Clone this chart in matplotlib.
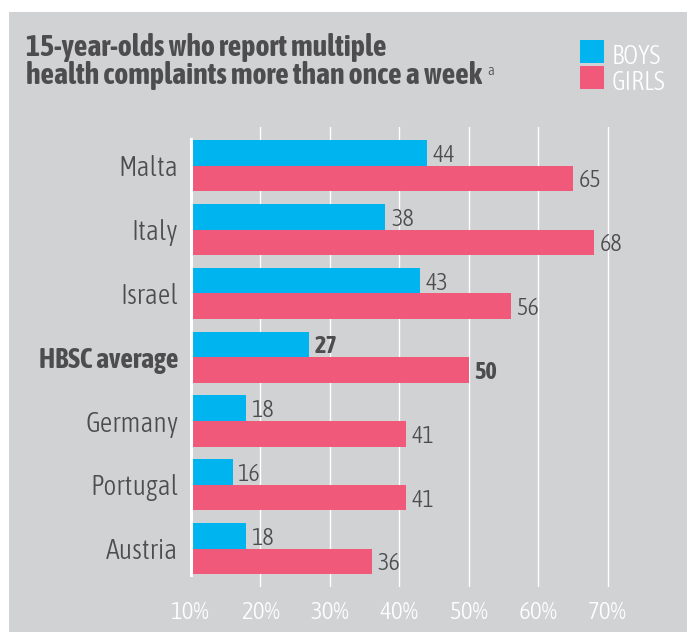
import matplotlib
matplotlib.use("Agg")
import matplotlib.pyplot as plt
from matplotlib.patches import Rectangle
import numpy as np

# Data
countries = ["Malta", "Italy", "Israel", "HBSC average", "Germany", "Portugal", "Austria"]
boys = [44, 38, 43, 27, 18, 16, 18]
girls = [65, 68, 56, 50, 41, 41, 36]
xticks = [10, 20, 30, 40, 50, 60, 70]
xtick_labels = ["10%", "20%", "30%", "40%", "50%", "60%", "70%"]
highlight = "HBSC average"

BLUE = "#00B5EF"
PINK = "#F0597A"
BG = "#D1D2D4"
TEXT = "#4D4D4F"
FONT = ["Asap Condensed", "Roboto Condensed", "Liberation Sans", "DejaVu Sans"]
LIGHT = 300

W, H = 687, 632
fig = plt.figure(figsize=(W / 100, H / 100), dpi=100, facecolor="white")


def fx(x):
    return x / W


def fy(y):
    return 1 - y / H


# grey panel
fig.add_artist(Rectangle((fx(9), 0), 1 - fx(9), fy(12), transform=fig.transFigure,
                         facecolor=BG, edgecolor="none", zorder=0))

ax = fig.add_axes([fx(190.8), fy(587), fx(687) - fx(190.8), fy(127) - fy(587)])
ax.set_facecolor("none")

y = np.arange(len(countries))
bh = 0.40
ax.barh(y - bh / 2, boys, height=bh, color=BLUE, zorder=2)
ax.barh(y + bh / 2, girls, height=bh, color=PINK, zorder=2)

ax.set_xlim(10, 10 + (687 - 190.8) / 6.95)
ax.set_ylim(6.600, -0.606)

for t in xticks[1:]:
    ax.axvline(t, color="white", lw=1.0, zorder=1)

for s in ["top", "right", "bottom"]:
    ax.spines[s].set_visible(False)
ax.spines["left"].set_color("white")
ax.spines["left"].set_linewidth(2.2)
ax.spines["left"].set_bounds(-0.413, 6.408)
ax.spines["left"].set_zorder(3)

ax.set_xticks(xticks, xtick_labels)
ax.tick_params(axis="x", length=0, pad=10, labelcolor="white", labelsize=18)
ax.set_yticks(y, countries)
ax.tick_params(axis="y", length=0, pad=9, labelcolor=TEXT, labelsize=20)
for lab in ax.get_xticklabels():
    lab.set_fontfamily(FONT)
    lab.set_fontweight(LIGHT)
for lab in ax.get_yticklabels():
    lab.set_fontfamily(FONT)
    lab.set_va("center_baseline")
    lab.set_fontweight("bold" if lab.get_text() == highlight else LIGHT)

for i, c in enumerate(countries):
    wt = "bold" if c == highlight else LIGHT
    for val, off in ((boys[i], -bh / 2), (girls[i], bh / 2)):
        ax.annotate(str(val), (val, i + off), xytext=(4, 0), textcoords="offset points",
                    ha="left", va="center_baseline", fontsize=17.5, color=TEXT,
                    fontweight=wt, family=FONT, zorder=4)

# Title
fig.text(fx(26), fy(55.5), "15-year-olds who report multiple", fontsize=21.5,
         fontweight="bold", color=TEXT, family=FONT, ha="left", va="baseline")
t2 = fig.text(fx(26), fy(84), "health complaints more than once a week", fontsize=21.5,
              fontweight="bold", color=TEXT, family=FONT, ha="left", va="baseline")
fig.canvas.draw()
bb = t2.get_window_extent()
fig.text(fx(bb.x1 + 5), fy(75), "a", fontsize=10.5, color=TEXT, family=FONT,
         fontweight=LIGHT, ha="left", va="baseline")

# Legend
for (top, label, col) in ((40, "BOYS", BLUE), (66, "GIRLS", PINK)):
    fig.add_artist(Rectangle((fx(580), fy(top + 22.7)), fx(24), fy(0) - fy(22.7),
                             transform=fig.transFigure, facecolor=col, edgecolor="none"))
    fig.text(fx(611.5), fy(top + 24), label, fontsize=18.5, color="white", family=FONT,
             fontweight=LIGHT, ha="left", va="baseline")

fig.savefig("out.png", dpi=100, facecolor="white")
